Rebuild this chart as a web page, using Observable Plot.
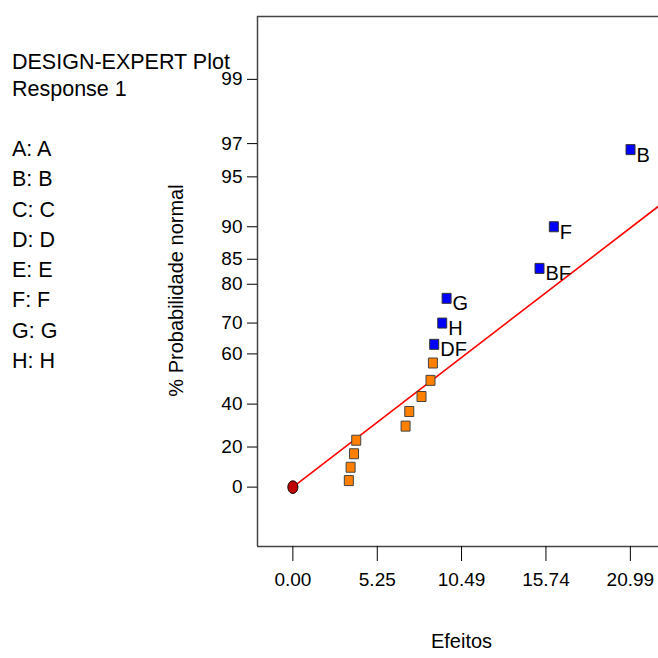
<!DOCTYPE html>
<html>
<head>
<meta charset="utf-8">
<script src="https://cdn.jsdelivr.net/npm/d3@7"></script>
<script src="https://cdn.jsdelivr.net/npm/@observablehq/plot@0.6"></script>
<style>
  html, body { margin: 0; padding: 0; background: #fff; }
  #wrap { position: relative; width: 658px; height: 658px; font-family: "Liberation Sans", Arial, sans-serif; }
  .lg { position: absolute; left: 12px; font-size: 21.5px; line-height: 20px; white-space: nowrap; color: #000; }
</style>
</head>
<body>
<div id="wrap"></div>
<script>
// ---- data ----
const headerLines = ["DESIGN-EXPERT Plot", "Response 1"];
const factorLines = ["A: A", "B: B", "C: C", "D: D", "E: E", "F: F", "G: G", "H: H"];

const effectNames = ["", "", "", "", "", "", "", "", "", "DF", "H", "G", "BF", "F", "B"];
const effectValues = [3.48, 3.59, 3.80, 3.94, 7.01, 7.24, 8.00, 8.56, 8.71, 8.79, 9.29, 9.56, 15.34, 16.23, 21.00];
const probPercents = [3.3, 10, 16.7, 23.3, 30, 36.7, 43.3, 50, 56.7, 63.3, 70, 76.7, 83.3, 90, 96.7];

const lineEffects = [0, 22.74];
const linePercents = [0, 92.4];
const originEffect = [0];
const originPercent = [0];

const xTickValues = [0, 5.25, 10.49, 15.74, 20.99];
const xTickLabels = ["0.00", "5.25", "10.49", "15.74", "20.99"];
const yTickPercents = [0, 20, 40, 60, 70, 80, 85, 90, 95, 97, 99];
const yTickLabels = ["0", "20", "40", "60", "70", "80", "85", "90", "95", "97", "99"];

// ---- half-normal probability transform ----
function probit(p) {
  const a=[-3.969683028665376e+01,2.209460984245205e+02,-2.759285104469687e+02,1.383577518672690e+02,-3.066479806614716e+01,2.506628277459239e+00];
  const b=[-5.447609879822406e+01,1.615858368580409e+02,-1.556989798598866e+02,6.680131188771972e+01,-1.328068155288572e+01];
  const c=[-7.784894002430293e-03,-3.223964580411365e-01,-2.400758277161838e+00,-2.549732539343734e+00,4.374664141464968e+00,2.938163982698783e+00];
  const d=[7.784695709041462e-03,3.224671290700398e-01,2.445134137142996e+00,3.754408661907416e+00];
  const plow = 0.02425, phigh = 1 - plow;
  if (p < plow) { const q = Math.sqrt(-2*Math.log(p)); return (((((c[0]*q+c[1])*q+c[2])*q+c[3])*q+c[4])*q+c[5])/((((d[0]*q+d[1])*q+d[2])*q+d[3])*q+1); }
  if (p <= phigh) { const q = p - 0.5, r = q*q; return (((((a[0]*r+a[1])*r+a[2])*r+a[3])*r+a[4])*r+a[5])*q/(((((b[0]*r+b[1])*r+b[2])*r+b[3])*r+b[4])*r+1); }
  const q = Math.sqrt(-2*Math.log(1-p)); return -(((((c[0]*q+c[1])*q+c[2])*q+c[3])*q+c[4])*q+c[5])/((((d[0]*q+d[1])*q+d[2])*q+d[3])*q+1);
}
const hn = pct => probit(0.5 + pct / 200);

// ---- tables ----
const points = effectValues.map((v, i) => ({effect: v, z: hn(probPercents[i]), name: effectNames[i]}));
const insignificant = points.filter(d => d.name === "");
const significant = points.filter(d => d.name !== "");
const fitLine = lineEffects.map((v, i) => ({effect: v, z: hn(linePercents[i])}));
const origin = originEffect.map((v, i) => ({effect: v, z: hn(originPercent[i])}));
const yTickZ = yTickPercents.map(hn);

const xDomain = [-2.2, 22.74];
const yDomain = [-0.375, 2.973];

const rectSym = { draw(ctx) { ctx.moveTo(-4.5, -5); ctx.lineTo(4.5, -5); ctx.lineTo(4.5, 5); ctx.lineTo(-4.5, 5); ctx.closePath(); } };
const ellipseSym = { draw(ctx) {
  const rx = 5, ry = 6.3, k = 0.5523;
  ctx.moveTo(rx, 0);
  ctx.bezierCurveTo(rx, k*ry, k*rx, ry, 0, ry);
  ctx.bezierCurveTo(-k*rx, ry, -rx, k*ry, -rx, 0);
  ctx.bezierCurveTo(-rx, -k*ry, -k*rx, -ry, 0, -ry);
  ctx.bezierCurveTo(k*rx, -ry, rx, -k*ry, rx, 0);
  ctx.closePath();
} };

const chart = Plot.plot({
  width: 658, height: 658,
  marginLeft: 257, marginRight: 0, marginTop: 16, marginBottom: 112,
  style: { fontFamily: "Liberation Sans, Arial, sans-serif", fontSize: "19px", background: "#fff", color: "#000", overflow: "visible" },
  x: { domain: xDomain },
  y: { domain: yDomain },
  marks: [
    Plot.ruleX([xDomain[0]], { stroke: "#444", strokeWidth: 1.5 }),
    Plot.ruleY(yDomain, { stroke: "#444", strokeWidth: 1.5 }),
    Plot.axisX({ ticks: xTickValues, tickFormat: d => xTickLabels[xTickValues.indexOf(d)], tickSize: 15, tickPadding: 11, fontSize: 19, label: null, stroke: "#000" }),
    Plot.axisY({ ticks: yTickZ, tickFormat: d => yTickLabels[yTickZ.indexOf(d)], tickSize: 10, tickPadding: 5, fontSize: 19, label: null, stroke: "#000" }),
    Plot.line(fitLine, { x: "effect", y: "z", stroke: "#ff0000", strokeWidth: 1.6 }),
    Plot.dot(insignificant, { x: "effect", y: "z", symbol: rectSym, fill: "#ff8000", stroke: "#444", strokeWidth: 1 }),
    Plot.dot(significant, { x: "effect", y: "z", symbol: rectSym, fill: "#0000ff", stroke: "#333", strokeWidth: 1 }),
    Plot.dot(origin, { x: "effect", y: "z", symbol: ellipseSym, fill: "#c00000", stroke: "#000", strokeWidth: 1 }),
    Plot.text(significant, { x: "effect", y: "z", text: "name", dx: 6, dy: 5.5, textAnchor: "start", fontSize: 20, fill: "#000" }),
    Plot.text(["% Probabilidade normal"], { frameAnchor: "left", textAnchor: "middle", rotate: -90, dx: -81, dy: 9, fontSize: 20, fill: "#000" }),
    Plot.text(["Efeitos"], { frameAnchor: "bottom", textAnchor: "middle", dx: 3.5, dy: 101, fontSize: 20, fill: "#000" })
  ]
});

const wrap = document.getElementById("wrap");
wrap.appendChild(chart);
chart.style.position = "absolute";
chart.style.left = "0px";
chart.style.top = "0px";

const headerCenters = [62, 89];
const factorCenters = [149, 179, 210, 240, 270, 300, 331, 361];
headerLines.forEach((t, i) => {
  const el = document.createElement("div");
  el.className = "lg"; el.textContent = t; el.style.top = (headerCenters[i] - 10) + "px";
  wrap.appendChild(el);
});
factorLines.forEach((t, i) => {
  const el = document.createElement("div");
  el.className = "lg"; el.textContent = t; el.style.top = (factorCenters[i] - 10) + "px";
  wrap.appendChild(el);
});
</script>
</body>
</html>
